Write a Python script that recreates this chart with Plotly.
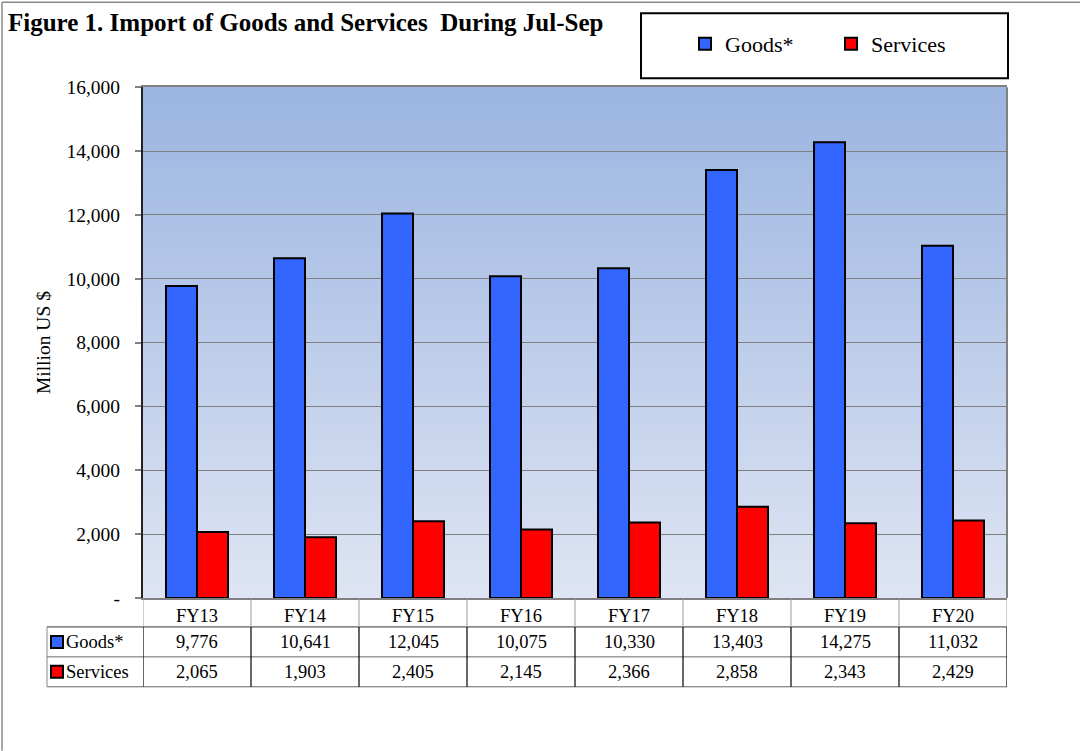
import plotly.graph_objects as go

# ---- data ----
categories = ["FY13", "FY14", "FY15", "FY16", "FY17", "FY18", "FY19", "FY20"]
goods = [9776, 10641, 12045, 10075, 10330, 13403, 14275, 11032]
services = [2065, 1903, 2405, 2145, 2366, 2858, 2343, 2429]
series_names = ["Goods*", "Services"]
y_tickvals = [0, 2000, 4000, 6000, 8000, 10000, 12000, 14000, 16000]
y_ticktext = ["-", "2,000", "4,000", "6,000", "8,000", "10,000", "12,000", "14,000", "16,000"]

# ---- style ----
W, H = 1080, 751
L, R, T, B = 143, 1007, 86, 598
COL_G = "#3366FF"
COL_S = "#FF0000"
FONT = "Liberation Serif"


def px(xp):
    return (xp - L) / (R - L)


def py(yp):
    return (B - yp) / (B - T)


fig = go.Figure()
fig.add_trace(go.Bar(x=categories, y=goods, name=series_names[0],
                     marker=dict(color=COL_G, line=dict(color="black", width=2))))
fig.add_trace(go.Bar(x=categories, y=services, name=series_names[1],
                     marker=dict(color=COL_S, line=dict(color="black", width=2))))

shapes = []
# gradient background strips
top = (155, 181, 225)
bot = (222, 228, 243)
N = 80
for i in range(N):
    t = i / (N - 1)
    c = tuple(round(bot[k] + (top[k] - bot[k]) * t) for k in range(3))
    shapes.append(dict(type="rect", xref="paper", yref="paper",
                       x0=0, x1=1, y0=i / N, y1=(i + 1) / N + 0.002,
                       fillcolor="rgb(%d,%d,%d)" % c, line=dict(width=0),
                       layer="below"))

# right border of plot area
shapes.append(dict(type="line", xref="paper", yref="paper", x0=1, x1=1, y0=0, y1=1,
                   line=dict(color="#808080", width=2)))

# outer frame (top and left)
shapes.append(dict(type="line", xref="paper", yref="paper",
                   x0=px(2), x1=px(1080), y0=py(1), y1=py(1),
                   line=dict(color="#888888", width=1.5)))
shapes.append(dict(type="line", xref="paper", yref="paper",
                   x0=px(2), x1=px(2), y0=py(1), y1=py(751),
                   line=dict(color="#888888", width=1.5)))

# legend box
shapes.append(dict(type="rect", xref="paper", yref="paper",
                   x0=px(641), x1=px(1008), y0=py(12), y1=py(77),
                   line=dict(color="black", width=2), fillcolor="white"))

# data table
n = len(categories)
shapes.append(dict(type="line", xref="paper", yref="paper", x0=px(47), x1=1,
                   y0=py(627), y1=py(627), line=dict(color="#333333", width=1)))
shapes.append(dict(type="line", xref="paper", yref="paper", x0=px(47), x1=1,
                   y0=py(657), y1=py(657), line=dict(color="#666666", width=1)))
shapes.append(dict(type="line", xref="paper", yref="paper", x0=px(47), x1=1,
                   y0=py(687), y1=py(687), line=dict(color="#666666", width=1)))
shapes.append(dict(type="line", xref="paper", yref="paper", x0=px(47), x1=px(47),
                   y0=py(627), y1=py(687), line=dict(color="#888888", width=1)))
for k in range(n + 1):
    xv = k - 0.5
    shapes.append(dict(type="line", xref="x", yref="paper", x0=xv, x1=xv,
                       y0=py(598), y1=py(627), line=dict(color="#999999", width=1)))
    shapes.append(dict(type="line", xref="x", yref="paper", x0=xv, x1=xv,
                       y0=py(627), y1=py(687), line=dict(color="black", width=1.2)))

annotations = []
row_centers = [642, 672]
for vals, yc in zip([goods, services], row_centers):
    for i, v in enumerate(vals):
        annotations.append(dict(x=categories[i], y=py(yc), xref="x", yref="paper",
                                text=f"{v:,}", showarrow=False,
                                font=dict(family=FONT, size=18.5, color="black"),
                                xanchor="center", yanchor="middle"))
for name, col, yc in zip(series_names, [COL_G, COL_S], row_centers):
    shapes.append(dict(type="rect", xref="paper", yref="paper",
                       x0=px(51), x1=px(63), y0=py(yc - 6), y1=py(yc + 6),
                       fillcolor=col, line=dict(color="black", width=2)))
    annotations.append(dict(x=px(64), y=py(yc), xref="paper", yref="paper",
                            text=name, showarrow=False,
                            font=dict(family=FONT, size=18.5, color="black"),
                            xanchor="left", yanchor="middle"))

fig.update_layout(
    width=W, height=H,
    margin=dict(l=L, r=W - R, t=T, b=H - B, pad=0),
    paper_bgcolor="white",
    plot_bgcolor="rgba(0,0,0,0)",
    barmode="group", bargap=0.426, bargroupgap=0,
    font=dict(family=FONT, size=18, color="black"),
    title=dict(text="<b>Figure 1. Import of Goods and Services&nbsp; During Jul-Sep</b>",
               x=8 / W, xanchor="left", xref="container",
               y=1 - 22 / H, yanchor="middle", yref="container",
               font=dict(family=FONT, size=25, color="black")),
    showlegend=True,
    legend=dict(orientation="h", xref="container", yref="container",
                x=685 / W, xanchor="left", y=1 - 44 / H, yanchor="middle",
                bgcolor="rgba(0,0,0,0)", borderwidth=0,
                font=dict(family=FONT, size=22, color="black"),
                entrywidth=101, entrywidthmode="pixels",
                traceorder="normal"),
    shapes=shapes,
    annotations=annotations,
)

fig.update_xaxes(type="category", showgrid=False, ticks="", showline=True,
                 linecolor="#808080", linewidth=2, mirror=True,
                 tickfont=dict(family=FONT, size=18.5, color="black"),
                 range=[-0.5, n - 0.5])
fig.update_yaxes(range=[0, 16000], tickvals=y_tickvals, ticktext=y_ticktext,
                 showgrid=True, gridcolor="#808080", gridwidth=1,
                 showline=True, linecolor="#222222", linewidth=2, mirror=False,
                 ticks="outside", ticklen=6, tickcolor="#808080", tickwidth=1.5,
                 ticklabelstandoff=11,
                 tickfont=dict(family=FONT, size=19.5, color="black"),
                 zeroline=False,
                 title=dict(text="Million US $", standoff=11,
                            font=dict(family=FONT, size=19.5, color="black")))

fig.write_html("out.html", config={"displayModeBar": False},
               post_script="document.body.style.margin='0';document.body.style.padding='0';")
